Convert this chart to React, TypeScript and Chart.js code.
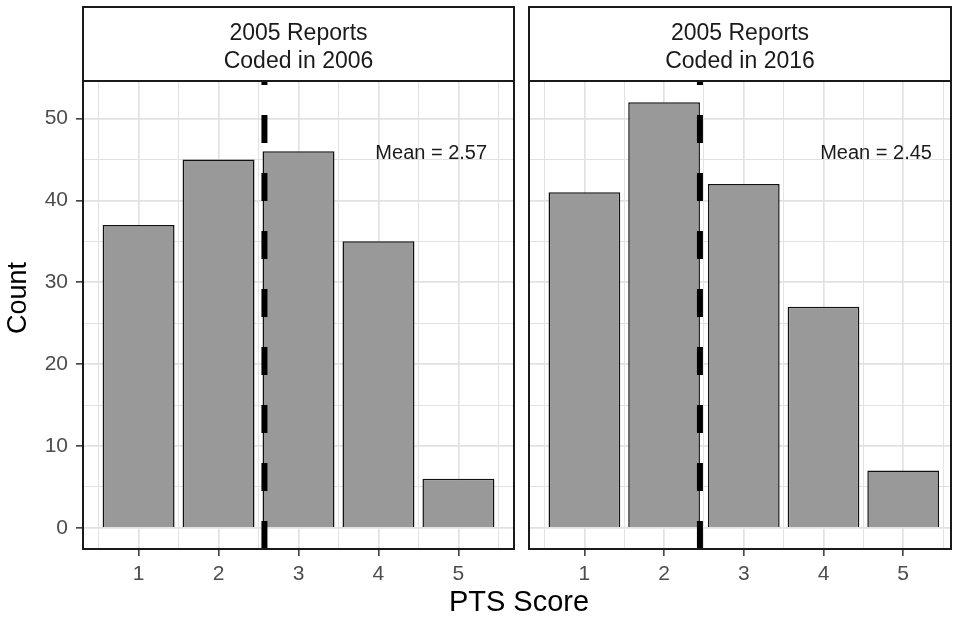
import React, { useEffect, useRef } from 'react';
import { Chart, registerables } from 'chart.js';

Chart.register(...registerables);

// ---------- data ----------
const scores = [1, 2, 3, 4, 5];
const counts2006 = [37, 45, 46, 35, 6];
const counts2016 = [41, 52, 42, 27, 7];
const stripLines2006 = ['2005 Reports', 'Coded in 2006'];
const stripLines2016 = ['2005 Reports', 'Coded in 2016'];
const yTickLabels = [0, 10, 20, 30, 40, 50];
const yGridValues = [0, 5, 10, 15, 20, 25, 30, 35, 40, 45, 50];
const xTickLabels = [1, 2, 3, 4, 5];
const xGridValues = [0.5, 1, 1.5, 2, 2.5, 3, 3.5, 4, 4.5, 5, 5.5];
const yTitle = 'Count';
const xTitle = 'PTS Score';

// ---------- layout ----------
const W = 953;
const H = 623;
const FONT = '"Liberation Sans", Arial, Helvetica, sans-serif';
const STRIP_TOP = 7;
const PANEL_TOP = 81;
const PANEL_BOTTOM = 549;
const Y_MIN = -2.6;
const Y_MAX = 54.6;
const X_MIN = 0.305;
const MEAN_LABEL_X = 4.66;
const MEAN_LABEL_Y = 45.8;
const X_TITLE_POS = { x: 519, y: 603 };
const Y_TITLE_POS = { x: 19, y: 298 };

const panels = [
  { counts: counts2006, strip: stripLines2006, left: 83, right: 514, xMax: 5.695, first: true },
  { counts: counts2016, strip: stripLines2016, left: 529, right: 951, xMax: 5.6, first: false },
];

function buildChart(canvas: HTMLCanvasElement, p: any) {
  const total = p.counts.reduce((a: number, b: number) => a + b, 0);
  const mean = p.counts.reduce((s: number, c: number, i: number) => s + c * scores[i], 0) / total;
  const meanText = `Mean = ${mean.toFixed(2)}`;

  const decor = {
    id: 'decor',
    afterDraw(chart: any) {
      const { ctx, chartArea: a } = chart;
      const xs = chart.scales.x;
      const ys = chart.scales.y;
      ctx.save();
      ctx.textAlign = 'center';
      ctx.textBaseline = 'middle';
      // mean label
      ctx.fillStyle = '#1a1a1a';
      ctx.font = `20px ${FONT}`;
      ctx.fillText(meanText, xs.getPixelForValue(MEAN_LABEL_X), ys.getPixelForValue(MEAN_LABEL_Y));
      // panel border
      ctx.strokeStyle = '#1a1a1a';
      ctx.lineWidth = 2;
      ctx.strokeRect(a.left, a.top, a.right - a.left, a.bottom - a.top);
      // strip
      ctx.fillStyle = '#fff';
      ctx.fillRect(a.left, STRIP_TOP, a.right - a.left, a.top - STRIP_TOP);
      ctx.strokeRect(a.left, STRIP_TOP, a.right - a.left, a.top - STRIP_TOP);
      ctx.fillStyle = '#1a1a1a';
      ctx.font = `23px ${FONT}`;
      const cx = (a.left + a.right) / 2;
      ctx.fillText(p.strip[0], cx, 34);
      ctx.fillText(p.strip[1], cx, 62);
      if (p.first) {
        ctx.fillStyle = '#000';
        ctx.font = `29px ${FONT}`;
        ctx.fillText(xTitle, X_TITLE_POS.x, X_TITLE_POS.y);
        ctx.save();
        ctx.font = `27px ${FONT}`;
        ctx.translate(Y_TITLE_POS.x, Y_TITLE_POS.y);
        ctx.rotate(-Math.PI / 2);
        ctx.fillText(yTitle, 0, 0);
        ctx.restore();
      }
      ctx.restore();
    },
  };

  const isMajorX = (v: number) => xTickLabels.includes(v);
  const isMajorY = (v: number) => yTickLabels.includes(v);

  return new Chart(canvas, {
    type: 'bar',
    data: {
      datasets: [
        {
          type: 'line',
          data: [
            { x: mean, y: Y_MIN },
            { x: mean, y: Y_MAX },
          ],
          borderColor: '#000',
          borderWidth: 6,
          borderDash: [28, 30],
          borderCapStyle: 'butt',
          pointRadius: 0,
          order: 0,
        } as any,
        {
          type: 'bar',
          data: scores.map((s, i) => ({ x: s, y: p.counts[i] })),
          backgroundColor: '#999999',
          borderColor: '#111111',
          borderWidth: 1.5,
          // ruler min is the 0.5-unit grid spacing, so 1.8 × 0.5 = 0.9 units wide bars
          barPercentage: 1.8,
          categoryPercentage: 1,
          order: 1,
        } as any,
      ],
    },
    options: {
      responsive: false,
      animation: false,
      devicePixelRatio: 1,
      layout: { padding: { left: 0, top: PANEL_TOP, right: W - p.right, bottom: 0 } },
      plugins: {
        legend: { display: false },
        tooltip: { enabled: false },
        title: { display: false },
      },
      scales: {
        x: {
          type: 'linear',
          min: X_MIN,
          max: p.xMax,
          offset: false,
          afterBuildTicks: (s: any) => {
            s.ticks = xGridValues.map((v) => ({ value: v }));
          },
          afterFit: (s: any) => {
            s.height = H - PANEL_BOTTOM;
          },
          border: { display: false },
          grid: {
            offset: false,
            color: '#e2e2e2',
            lineWidth: (c: any) => (isMajorX(c.tick?.value) ? 1.7 : 1),
            tickLength: 7,
            tickWidth: 1.5,
            tickColor: (c: any) => (isMajorX(c.tick?.value) ? '#333' : 'rgba(0,0,0,0)'),
          },
          ticks: {
            autoSkip: false,
            maxRotation: 0,
            minRotation: 0,
            padding: 6,
            color: '#4d4d4d',
            font: { family: FONT, size: 21 },
            callback: (v: any) => (isMajorX(Number(v)) ? String(v) : ''),
          },
        },
        y: {
          type: 'linear',
          min: Y_MIN,
          max: Y_MAX,
          afterBuildTicks: (s: any) => {
            s.ticks = yGridValues.map((v) => ({ value: v }));
          },
          afterFit: (s: any) => {
            s.width = p.left;
          },
          border: { display: false },
          grid: {
            color: '#e2e2e2',
            lineWidth: (c: any) => (isMajorY(c.tick?.value) ? 1.7 : 1),
            drawTicks: p.first,
            tickLength: 7,
            tickWidth: 1.5,
            tickColor: (c: any) => (isMajorY(c.tick?.value) ? '#333' : 'rgba(0,0,0,0)'),
          },
          ticks: {
            display: p.first,
            autoSkip: false,
            padding: 8,
            color: '#4d4d4d',
            font: { family: FONT, size: 21 },
            callback: (v: any) => (isMajorY(Number(v)) ? String(v) : ''),
          },
        },
      },
    } as any,
    plugins: [decor],
  });
}

export default function App() {
  const leftRef = useRef<HTMLCanvasElement>(null);
  const rightRef = useRef<HTMLCanvasElement>(null);

  useEffect(() => {
    const charts: Chart[] = [];
    if (leftRef.current) charts.push(buildChart(leftRef.current, panels[0]));
    if (rightRef.current) charts.push(buildChart(rightRef.current, panels[1]));
    return () => charts.forEach((c) => c.destroy());
  }, []);

  const canvasStyle: React.CSSProperties = { position: 'absolute', left: 0, top: 0, width: W, height: H };
  return (
    <div style={{ position: 'absolute', left: 0, top: 0, width: W, height: H, background: '#fff' }}>
      <canvas ref={leftRef} width={W} height={H} style={canvasStyle} />
      <canvas ref={rightRef} width={W} height={H} style={canvasStyle} />
    </div>
  );
}
